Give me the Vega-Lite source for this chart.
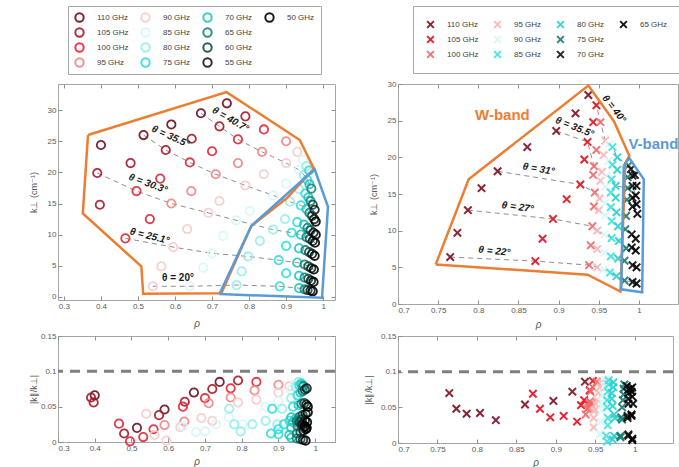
{
"$schema": "https://vega.github.io/schema/vega-lite/v6.json",
"padding": {"left": 28, "top": 5, "right": 0, "bottom": 0},
"background": "white",
"config": {
  "font": "Liberation Sans",
  "view": {"stroke": "#a6a6a6", "strokeWidth": 1},
  "axis": {"grid": false, "domain": false, "ticks": true, "tickSize": -4, "tickColor": "#909090", "labelPadding": 6, "labelColor": "#595959", "labelFontSize": 8, "labelOverlap": false, "titleColor": "#595959", "titleFontSize": 9, "titleFontWeight": "normal"},
  "axisX": {"minExtent": 10, "maxExtent": 10, "titlePadding": 8, "titleFontStyle": "italic", "titleFontSize": 10},
  "axisY": {"minExtent": 14, "maxExtent": 14, "titlePadding": 6},
  "legend": {"orient": "none", "title": null, "columns": 4, "strokeColor": "#a6a6a6", "fillColor": "white", "labelFontSize": 8, "labelColor": "#404040", "labelOffset": 12, "rowPadding": 4, "clipHeight": 11, "symbolStrokeWidth": 2}
},
"datasets": {
  "L": [
    {"ray":"A","f":110,"rho":0.74,"k":31.1,"r":0.085},{"ray":"A","f":105,"rho":0.79,"k":29.0,"r":0.087},{"ray":"A","f":100,"rho":0.84,"k":26.9,"r":0.085},{"ray":"A","f":95,"rho":0.90,"k":25.0,"r":0.081},{"ray":"A","f":90,"rho":0.93,"k":23.3,"r":0.079},{"ray":"A","f":85,"rho":0.945,"k":22.0,"r":0.082},{"ray":"A","f":80,"rho":0.955,"k":21.0,"r":0.085},{"ray":"A","f":75,"rho":0.962,"k":20.3,"r":0.083},
    {"ray":"B","f":110,"rho":0.67,"k":29.5,"r":0.070},{"ray":"B","f":105,"rho":0.72,"k":27.4,"r":0.075},{"ray":"B","f":100,"rho":0.77,"k":25.3,"r":0.076},{"ray":"B","f":95,"rho":0.835,"k":23.3,"r":0.073},{"ray":"B","f":90,"rho":0.90,"k":21.5,"r":0.070},{"ray":"B","f":85,"rho":0.935,"k":20.4,"r":0.074},{"ray":"B","f":80,"rho":0.948,"k":19.6,"r":0.078},{"ray":"B","f":75,"rho":0.957,"k":18.8,"r":0.080},{"ray":"B","f":70,"rho":0.963,"k":18.1,"r":0.081},{"ray":"B","f":65,"rho":0.968,"k":17.4,"r":0.079},
    {"ray":"C","f":110,"rho":0.59,"k":27.7,"r":0.046},{"ray":"C","f":105,"rho":0.645,"k":25.4,"r":0.057},{"ray":"C","f":100,"rho":0.70,"k":23.4,"r":0.062},{"ray":"C","f":95,"rho":0.77,"k":21.5,"r":0.063},{"ray":"C","f":90,"rho":0.84,"k":19.7,"r":0.060},{"ray":"C","f":85,"rho":0.90,"k":18.2,"r":0.058},{"ray":"C","f":80,"rho":0.935,"k":17.3,"r":0.062},{"ray":"C","f":75,"rho":0.952,"k":16.6,"r":0.066},{"ray":"C","f":70,"rho":0.96,"k":16.0,"r":0.070},{"ray":"C","f":65,"rho":0.966,"k":15.4,"r":0.072},{"ray":"C","f":60,"rho":0.972,"k":14.8,"r":0.074},{"ray":"C","f":55,"rho":0.977,"k":14.0,"r":0.076},
    {"ray":"D","f":110,"rho":0.515,"k":26.0,"r":0.020},{"ray":"D","f":105,"rho":0.575,"k":23.6,"r":0.038},{"ray":"D","f":100,"rho":0.64,"k":21.6,"r":0.050},{"ray":"D","f":95,"rho":0.71,"k":19.7,"r":0.055},{"ray":"D","f":90,"rho":0.79,"k":17.9,"r":0.056},{"ray":"D","f":85,"rho":0.865,"k":16.3,"r":0.050},{"ray":"D","f":80,"rho":0.91,"k":15.3,"r":0.047},{"ray":"D","f":75,"rho":0.94,"k":14.7,"r":0.050},{"ray":"D","f":70,"rho":0.955,"k":14.1,"r":0.052},{"ray":"D","f":65,"rho":0.963,"k":13.5,"r":0.054},{"ray":"D","f":60,"rho":0.97,"k":13.0,"r":0.055},{"ray":"D","f":55,"rho":0.976,"k":12.5,"r":0.053},{"ray":"D","f":50,"rho":0.98,"k":12.1,"r":0.050},
    {"ray":"E","f":110,"rho":0.40,"k":24.4,"r":0.066},{"ray":"E","f":105,"rho":0.48,"k":21.5,"r":0.012},{"ray":"E","f":100,"rho":0.56,"k":19.0,"r":0.018},{"ray":"E","f":95,"rho":0.644,"k":17.0,"r":0.029},{"ray":"E","f":90,"rho":0.72,"k":15.4,"r":0.030},{"ray":"E","f":85,"rho":0.802,"k":13.8,"r":0.025},{"ray":"E","f":80,"rho":0.897,"k":12.5,"r":0.025},{"ray":"E","f":75,"rho":0.93,"k":12.0,"r":0.030},{"ray":"E","f":70,"rho":0.948,"k":11.6,"r":0.033},{"ray":"E","f":65,"rho":0.958,"k":11.1,"r":0.036},{"ray":"E","f":60,"rho":0.966,"k":10.7,"r":0.038},{"ray":"E","f":55,"rho":0.974,"k":10.3,"r":0.040},{"ray":"E","f":50,"rho":0.98,"k":10.0,"r":0.042},
    {"ray":"F","f":105,"rho":0.39,"k":19.9,"r":0.063},{"ray":"F","f":100,"rho":0.496,"k":17.0,"r":0.001},{"ray":"F","f":95,"rho":0.59,"k":15.0,"r":0.024},{"ray":"F","f":90,"rho":0.69,"k":13.5,"r":0.034},{"ray":"F","f":85,"rho":0.765,"k":12.3,"r":0.035},{"ray":"F","f":80,"rho":0.865,"k":10.8,"r":0.030},{"ray":"F","f":75,"rho":0.915,"k":10.3,"r":0.025},{"ray":"F","f":70,"rho":0.94,"k":10.0,"r":0.028},{"ray":"F","f":65,"rho":0.955,"k":9.6,"r":0.030},{"ray":"F","f":60,"rho":0.964,"k":9.3,"r":0.032},{"ray":"F","f":55,"rho":0.972,"k":9.0,"r":0.030},{"ray":"F","f":50,"rho":0.978,"k":8.7,"r":0.028},
    {"ray":"G","f":105,"rho":0.397,"k":14.8,"r":0.056},{"ray":"G","f":100,"rho":0.532,"k":12.5,"r":0.007},{"ray":"G","f":90,"rho":0.633,"k":10.9,"r":0.021},{"ray":"G","f":85,"rho":0.73,"k":9.8,"r":0.025},{"ray":"G","f":80,"rho":0.829,"k":9.0,"r":0.025},{"ray":"G","f":75,"rho":0.90,"k":8.2,"r":0.018},{"ray":"G","f":70,"rho":0.935,"k":7.8,"r":0.020},{"ray":"G","f":65,"rho":0.952,"k":7.5,"r":0.022},{"ray":"G","f":60,"rho":0.962,"k":7.2,"r":0.024},{"ray":"G","f":55,"rho":0.97,"k":6.9,"r":0.022},{"ray":"G","f":50,"rho":0.977,"k":6.6,"r":0.020},
    {"ray":"H","f":100,"rho":0.466,"k":9.4,"r":0.026},{"ray":"H","f":90,"rho":0.595,"k":8.0,"r":0.002},{"ray":"H","f":85,"rho":0.70,"k":7.0,"r":0.015},{"ray":"H","f":80,"rho":0.797,"k":6.5,"r":0.015},{"ray":"H","f":75,"rho":0.88,"k":5.9,"r":0.012},{"ray":"H","f":70,"rho":0.93,"k":5.5,"r":0.010},{"ray":"H","f":65,"rho":0.95,"k":5.2,"r":0.012},{"ray":"H","f":60,"rho":0.96,"k":4.9,"r":0.014},{"ray":"H","f":55,"rho":0.968,"k":4.6,"r":0.016},{"ray":"H","f":50,"rho":0.975,"k":4.4,"r":0.018},
    {"ray":"I","f":90,"rho":0.563,"k":4.9,"r":0.010},{"ray":"I","f":85,"rho":0.676,"k":4.7,"r":0.014},{"ray":"I","f":80,"rho":0.78,"k":4.1,"r":0.025},{"ray":"I","f":75,"rho":0.90,"k":3.8,"r":0.011},{"ray":"I","f":70,"rho":0.935,"k":3.4,"r":0.006},{"ray":"I","f":65,"rho":0.95,"k":3.1,"r":0.005},{"ray":"I","f":60,"rho":0.96,"k":2.9,"r":0.004},{"ray":"I","f":55,"rho":0.967,"k":2.6,"r":0.003},{"ray":"I","f":50,"rho":0.974,"k":2.4,"r":0.002},
    {"ray":"J","f":90,"rho":0.54,"k":1.7,"r":0.040},{"ray":"J","f":85,"rho":0.64,"k":1.7,"r":0.022},{"ray":"J","f":80,"rho":0.766,"k":1.9,"r":0.047},{"ray":"J","f":75,"rho":0.883,"k":1.7,"r":0.047},{"ray":"J","f":70,"rho":0.935,"k":1.4,"r":0.035},{"ray":"J","f":65,"rho":0.95,"k":1.2,"r":0.030},{"ray":"J","f":60,"rho":0.958,"k":1.1,"r":0.028},{"ray":"J","f":55,"rho":0.966,"k":1.0,"r":0.025},{"ray":"J","f":50,"rho":0.972,"k":0.9,"r":0.022}
  ],
  "R": [
    {"ray":"R1","f":110,"rho":0.765,"k":6.4,"r":0.070},{"ray":"R1","f":105,"rho":0.871,"k":5.85,"r":0.069},{"ray":"R1","f":100,"rho":0.938,"k":5.3,"r":0.040},{"ray":"R1","f":95,"rho":0.948,"k":5.0,"r":0.022},{"ray":"R1","f":90,"rho":0.956,"k":4.7,"r":0.013},{"ray":"R1","f":85,"rho":0.964,"k":4.3,"r":0.010},{"ray":"R1","f":80,"rho":0.972,"k":3.8,"r":0.005},{"ray":"R1","f":75,"rho":0.982,"k":3.2,"r":0.008},{"ray":"R1","f":70,"rho":0.992,"k":3.0,"r":0.012},{"ray":"R1","f":65,"rho":0.997,"k":2.8,"r":0.004},
    {"ray":"R2","f":110,"rho":0.774,"k":9.7,"r":0.048},{"ray":"R2","f":105,"rho":0.880,"k":8.9,"r":0.048},{"ray":"R2","f":100,"rho":0.940,"k":8.0,"r":0.048},{"ray":"R2","f":95,"rho":0.948,"k":7.5,"r":0.035},{"ray":"R2","f":90,"rho":0.957,"k":7.0,"r":0.012},{"ray":"R2","f":85,"rho":0.965,"k":6.5,"r":0.002},{"ray":"R2","f":80,"rho":0.974,"k":6.2,"r":0.010},{"ray":"R2","f":75,"rho":0.982,"k":5.9,"r":0.010},{"ray":"R2","f":70,"rho":0.992,"k":5.3,"r":0.010},{"ray":"R2","f":65,"rho":0.997,"k":5.0,"r":0.006},
    {"ray":"R3","f":110,"rho":0.787,"k":12.8,"r":0.041},{"ray":"R3","f":105,"rho":0.893,"k":11.6,"r":0.036},{"ray":"R3","f":100,"rho":0.942,"k":10.6,"r":0.050},{"ray":"R3","f":95,"rho":0.948,"k":10.0,"r":0.045},{"ray":"R3","f":90,"rho":0.957,"k":9.5,"r":0.030},{"ray":"R3","f":85,"rho":0.966,"k":9.0,"r":0.025},{"ray":"R3","f":80,"rho":0.975,"k":8.6,"r":0.035},{"ray":"R3","f":75,"rho":0.984,"k":7.6,"r":0.033},{"ray":"R3","f":70,"rho":0.991,"k":7.7,"r":0.035},{"ray":"R3","f":65,"rho":0.996,"k":7.3,"r":0.038},
    {"ray":"R4","f":110,"rho":0.804,"k":15.8,"r":0.042},{"ray":"R4","f":105,"rho":0.910,"k":14.3,"r":0.038},{"ray":"R4","f":100,"rho":0.944,"k":13.3,"r":0.055},{"ray":"R4","f":95,"rho":0.950,"k":12.8,"r":0.047},{"ray":"R4","f":90,"rho":0.958,"k":12.1,"r":0.045},{"ray":"R4","f":85,"rho":0.966,"k":11.3,"r":0.035},{"ray":"R4","f":80,"rho":0.974,"k":10.6,"r":0.040},{"ray":"R4","f":75,"rho":0.983,"k":10.2,"r":0.036},{"ray":"R4","f":70,"rho":0.991,"k":9.5,"r":0.038},{"ray":"R4","f":65,"rho":0.996,"k":8.9,"r":0.040},
    {"ray":"R5","f":110,"rho":0.824,"k":18.1,"r":0.032},{"ray":"R5","f":105,"rho":0.927,"k":16.3,"r":0.030},{"ray":"R5","f":100,"rho":0.945,"k":15.2,"r":0.056},{"ray":"R5","f":95,"rho":0.951,"k":14.4,"r":0.055},{"ray":"R5","f":90,"rho":0.958,"k":13.8,"r":0.052},{"ray":"R5","f":85,"rho":0.965,"k":13.2,"r":0.050},{"ray":"R5","f":80,"rho":0.972,"k":12.5,"r":0.052},{"ray":"R5","f":75,"rho":0.984,"k":12.0,"r":0.050},{"ray":"R5","f":70,"rho":0.992,"k":13.3,"r":0.055},{"ray":"R5","f":65,"rho":0.998,"k":12.3,"r":0.055},
    {"ray":"R6","f":110,"rho":0.861,"k":21.4,"r":0.054},{"ray":"R6","f":105,"rho":0.932,"k":19.7,"r":0.053},{"ray":"R6","f":100,"rho":0.943,"k":17.6,"r":0.058},{"ray":"R6","f":95,"rho":0.952,"k":16.8,"r":0.060},{"ray":"R6","f":90,"rho":0.958,"k":16.0,"r":0.058},{"ray":"R6","f":85,"rho":0.965,"k":15.2,"r":0.060},{"ray":"R6","f":80,"rho":0.971,"k":14.5,"r":0.062},{"ray":"R6","f":75,"rho":0.985,"k":14.2,"r":0.060},{"ray":"R6","f":70,"rho":0.992,"k":14.5,"r":0.062},{"ray":"R6","f":65,"rho":0.997,"k":13.6,"r":0.065},
    {"ray":"R7","f":110,"rho":0.897,"k":23.6,"r":0.059},{"ray":"R7","f":105,"rho":0.936,"k":22.1,"r":0.060},{"ray":"R7","f":100,"rho":0.944,"k":18.8,"r":0.072},{"ray":"R7","f":95,"rho":0.954,"k":18.0,"r":0.070},{"ray":"R7","f":90,"rho":0.960,"k":17.5,"r":0.068},{"ray":"R7","f":85,"rho":0.966,"k":17.0,"r":0.072},{"ray":"R7","f":80,"rho":0.971,"k":16.1,"r":0.070},{"ray":"R7","f":75,"rho":0.986,"k":15.8,"r":0.068},{"ray":"R7","f":70,"rho":0.992,"k":16.1,"r":0.070},{"ray":"R7","f":65,"rho":0.996,"k":14.8,"r":0.072},
    {"ray":"R8","f":110,"rho":0.921,"k":26.0,"r":0.072},{"ray":"R8","f":105,"rho":0.943,"k":24.8,"r":0.074},{"ray":"R8","f":100,"rho":0.947,"k":21.0,"r":0.078},{"ray":"R8","f":95,"rho":0.956,"k":20.3,"r":0.078},{"ray":"R8","f":90,"rho":0.962,"k":19.5,"r":0.080},{"ray":"R8","f":85,"rho":0.967,"k":19.0,"r":0.082},{"ray":"R8","f":80,"rho":0.973,"k":18.3,"r":0.078},{"ray":"R8","f":75,"rho":0.986,"k":17.3,"r":0.076},{"ray":"R8","f":70,"rho":0.992,"k":17.5,"r":0.075},{"ray":"R8","f":65,"rho":0.997,"k":16.1,"r":0.078},
    {"ray":"R9","f":110,"rho":0.937,"k":28.5,"r":0.086},{"ray":"R9","f":105,"rho":0.947,"k":27.1,"r":0.087},{"ray":"R9","f":100,"rho":0.952,"k":24.8,"r":0.086},{"ray":"R9","f":95,"rho":0.958,"k":22.3,"r":0.085},{"ray":"R9","f":90,"rho":0.963,"k":21.8,"r":0.088},{"ray":"R9","f":85,"rho":0.967,"k":21.4,"r":0.088},{"ray":"R9","f":80,"rho":0.973,"k":20.0,"r":0.085},{"ray":"R9","f":75,"rho":0.987,"k":18.9,"r":0.082},{"ray":"R9","f":70,"rho":0.990,"k":18.4,"r":0.080},{"ray":"R9","f":65,"rho":0.995,"k":17.6,"r":0.076}
  ],
  "pLo": [{"i":1,"rho":0.365,"k":26.0},{"i":2,"rho":0.739,"k":32.9},{"i":3,"rho":0.937,"k":25.2},{"i":4,"rho":0.975,"k":20.6},{"i":5,"rho":0.903,"k":15.9},{"i":6,"rho":0.806,"k":11.4},{"i":7,"rho":0.725,"k":0.6},{"i":8,"rho":0.514,"k":0.5},{"i":9,"rho":0.509,"k":4.9},{"i":10,"rho":0.351,"k":13.4},{"i":11,"rho":0.365,"k":26.0}],
  "pLb": [{"i":1,"rho":0.72,"k":0.45},{"i":2,"rho":0.806,"k":11.4},{"i":3,"rho":0.977,"k":20.5},{"i":4,"rho":1.013,"k":14.5},{"i":5,"rho":0.997,"k":-0.15},{"i":6,"rho":0.72,"k":0.45}],
  "pRo": [{"i":1,"rho":0.747,"k":5.4},{"i":2,"rho":0.788,"k":17.0},{"i":3,"rho":0.937,"k":29.8},{"i":4,"rho":0.969,"k":24.9},{"i":5,"rho":0.988,"k":20.2},{"i":6,"rho":0.983,"k":19.2},{"i":7,"rho":0.977,"k":1.7},{"i":8,"rho":0.936,"k":4.0},{"i":9,"rho":0.747,"k":5.4}],
  "pRb": [{"i":1,"rho":0.981,"k":18.9},{"i":2,"rho":0.988,"k":19.9},{"i":3,"rho":1.006,"k":17.0},{"i":4,"rho":1.004,"k":1.6},{"i":5,"rho":0.978,"k":2.0},{"i":6,"rho":0.981,"k":18.9}]
},
"hconcat": [
  {"vconcat": [
    {"width": 277, "height": 216,
     "resolve": {"axis": {"x": "independent", "y": "independent"}},
     "layer": [
      {"layer": [
      {"data": {"name": "L"}, "transform": [{"filter": {"field": "ray", "oneOf": ["B","D","F","H","J"]}}],
       "mark": {"type": "line", "stroke": "#808080", "strokeWidth": 0.9, "strokeDash": [5,4]},
       "encoding": {"x": {"field": "rho", "type": "quantitative", "scale": {"domain": [0.284, 1.032], "nice": false, "zero": false}, "axis": {"title": "ρ", "values": [0.3,0.4,0.5,0.6,0.7,0.8,0.9,1], "tickCount": 40, "format": "~g"}},
                    "y": {"field": "k", "type": "quantitative", "scale": {"domain": [-0.5, 34.2], "nice": false, "zero": false}, "axis": {"title": "k⊥ (cm⁻¹)", "values": [0,5,10,15,20,25,30], "tickCount": 40}},
                    "detail": {"field": "ray"}, "order": {"field": "rho"}}},
      {"data": {"name": "L"},
       "mark": {"type": "point", "shape": "circle", "filled": false, "strokeWidth": 1.8, "size": 70, "opacity": 0.9},
       "encoding": {"x": {"field": "rho", "type": "quantitative"}, "y": {"field": "k", "type": "quantitative"},
                    "order": {"field": "f", "sort": "descending"},
                    "color": {"field": "f", "type": "ordinal", "scale": {"domain": [110,105,100,95,90,85,80,75,70,65,60,55,50,3,2,1], "range": ["#6e0f1e","#a8192a","#e02838","#f08888","#f8cccc","#d8f8f8","#98eeee","#30dede","#22c8c0","#18857c","#0f4f48","#1a1a1a","#000000","rgba(0,0,0,0)","rgba(0,0,0,0)","rgba(0,0,0,0)"]},
                              "legend": {"labelExpr": "datum.value < 10 ? '' : datum.label + ' GHz'", "legendX": 10, "legendY": -78, "padding": 6, "columnPadding": 11, "symbolSize": 70, "symbolType": "circle"}}}},
      {"data": {"name": "pLo"}, "mark": {"type": "line", "stroke": "#ed7d31", "strokeWidth": 2.5}, "encoding": {"x": {"field": "rho", "type": "quantitative"}, "y": {"field": "k", "type": "quantitative"}, "order": {"field": "i"}}},
      {"data": {"name": "pLb"}, "mark": {"type": "line", "stroke": "#5b9bd5", "strokeWidth": 2.5}, "encoding": {"x": {"field": "rho", "type": "quantitative"}, "y": {"field": "k", "type": "quantitative"}, "order": {"field": "i"}}},
      {"data": {"values": [{"rho":0.750,"k":28.5,"t":"θ = 40.7°"}]}, "mark": {"type": "text", "angle": 30, "fontSize": 10, "fontWeight": "bold", "fontStyle": "italic", "color": "#1a1a1a"}, "encoding": {"x": {"field": "rho", "type": "quantitative"}, "y": {"field": "k", "type": "quantitative"}, "text": {"field": "t"}}},
      {"data": {"values": [{"rho":0.588,"k":25.75,"t":"θ = 35.5°"}]}, "mark": {"type": "text", "angle": 24, "fontSize": 10, "fontWeight": "bold", "fontStyle": "italic", "color": "#1a1a1a"}, "encoding": {"x": {"field": "rho", "type": "quantitative"}, "y": {"field": "k", "type": "quantitative"}, "text": {"field": "t"}}},
      {"data": {"values": [{"rho":0.527,"k":18.2,"t":"θ = 30.3°"}]}, "mark": {"type": "text", "angle": 20, "fontSize": 10, "fontWeight": "bold", "fontStyle": "italic", "color": "#1a1a1a"}, "encoding": {"x": {"field": "rho", "type": "quantitative"}, "y": {"field": "k", "type": "quantitative"}, "text": {"field": "t"}}},
      {"data": {"values": [{"rho":0.531,"k":9.76,"t":"θ = 25.1°"}]}, "mark": {"type": "text", "angle": 14, "fontSize": 10, "fontWeight": "bold", "fontStyle": "italic", "color": "#1a1a1a"}, "encoding": {"x": {"field": "rho", "type": "quantitative"}, "y": {"field": "k", "type": "quantitative"}, "text": {"field": "t"}}},
      {"data": {"values": [{"rho":0.608,"k":3.06,"t":"θ = 20°"}]}, "mark": {"type": "text", "angle": 0, "fontSize": 10, "fontWeight": "bold", "color": "#1a1a1a"}, "encoding": {"x": {"field": "rho", "type": "quantitative"}, "y": {"field": "k", "type": "quantitative"}, "text": {"field": "t"}}}
      ]},
      {"data": {"name": "pLo"}, "mark": {"type": "point", "opacity": 0},
       "encoding": {"x": {"field": "rho", "type": "quantitative", "axis": {"orient": "top", "labels": false, "title": null, "values": [0.3,0.4,0.5,0.6,0.7,0.8,0.9,1], "tickCount": 40, "minExtent": 0, "maxExtent": 0}},
                    "y": {"field": "k", "type": "quantitative", "axis": {"orient": "right", "labels": false, "title": null, "values": [0,5,10,15,20,25,30], "tickCount": 40, "minExtent": 0, "maxExtent": 0}}}}
     ]},
    {"width": 277, "height": 106,
     "resolve": {"axis": {"x": "independent", "y": "independent"}},
     "layer": [
      {"layer": [
      {"data": {"values": [{"r": 0.1}]}, "mark": {"type": "rule", "stroke": "#7f7f7f", "strokeWidth": 3, "strokeDash": [10,7]},
       "encoding": {"y": {"field": "r", "type": "quantitative", "scale": {"domain": [0, 0.15], "nice": false}, "axis": {"title": "|k∥/k⊥|", "values": [0,0.05,0.1,0.15], "tickCount": 40, "format": "~g"}}}},
      {"data": {"name": "L"},
       "mark": {"type": "point", "shape": "circle", "filled": false, "strokeWidth": 1.8, "size": 70, "opacity": 0.9},
       "encoding": {"x": {"field": "rho", "type": "quantitative", "scale": {"domain": [0.3, 1.054], "nice": false, "zero": false}, "axis": {"title": "ρ", "values": [0.3,0.4,0.5,0.6,0.7,0.8,0.9,1], "tickCount": 40, "format": "~g", "titlePadding": 4}},
                    "y": {"field": "r", "type": "quantitative"},
                    "order": {"field": "f", "sort": "descending"},
                    "color": {"field": "f", "type": "ordinal", "scale": {"domain": [110,105,100,95,90,85,80,75,70,65,60,55,50], "range": ["#6e0f1e","#a8192a","#e02838","#f08888","#f8cccc","#d8f8f8","#98eeee","#30dede","#22c8c0","#18857c","#0f4f48","#1a1a1a","#000000"]}, "legend": null}}}
      ]},
      {"data": {"name": "L"}, "mark": {"type": "point", "opacity": 0},
       "encoding": {"x": {"field": "rho", "type": "quantitative", "axis": {"orient": "top", "labels": false, "title": null, "values": [0.3,0.4,0.5,0.6,0.7,0.8,0.9,1], "tickCount": 40, "minExtent": 0, "maxExtent": 0}},
                    "y": {"field": "r", "type": "quantitative", "axis": {"orient": "right", "labels": false, "title": null, "values": [0,0.05,0.1,0.15], "tickCount": 40, "minExtent": 0, "maxExtent": 0}}}}
     ]}
  ], "spacing": 2},
  {"vconcat": [
    {"width": 280, "height": 220,
     "resolve": {"axis": {"x": "independent", "y": "independent"}},
     "layer": [
      {"layer": [
      {"data": {"name": "R"}, "transform": [{"filter": {"field": "ray", "oneOf": ["R1","R3","R5","R7","R9"]}}],
       "mark": {"type": "line", "stroke": "#808080", "strokeWidth": 0.9, "strokeDash": [5,4]},
       "encoding": {"x": {"field": "rho", "type": "quantitative", "scale": {"domain": [0.7, 1.0486], "nice": false, "zero": false}, "axis": {"title": "ρ", "values": [0.7,0.75,0.8,0.85,0.9,0.95,1], "tickCount": 40, "format": "~g", "titlePadding": 5}},
                    "y": {"field": "k", "type": "quantitative", "scale": {"domain": [0, 30], "nice": false}, "axis": {"title": "k⊥ (cm⁻¹)", "values": [0,5,10,15,20,25,30], "tickCount": 40}},
                    "detail": {"field": "ray"}, "order": {"field": "rho"}}},
      {"data": {"name": "R"},
       "mark": {"type": "point", "shape": "M-1,-1L1,1M-1,1L1,-1", "filled": false, "strokeWidth": 2, "size": 55, "opacity": 0.9},
       "encoding": {"x": {"field": "rho", "type": "quantitative"}, "y": {"field": "k", "type": "quantitative"},
                    "order": {"field": "f", "sort": "descending"},
                    "color": {"field": "f", "type": "ordinal", "scale": {"domain": [110,105,100,95,90,85,80,75,70,65,2,1], "range": ["#7a1020","#e01020","#f06a6a","#f8b8b8","#d8f8f8","#40e0e0","#2ccfcf","#187a70","#101010","#000000","rgba(0,0,0,0)","rgba(0,0,0,0)"]},
                              "legend": {"labelExpr": "datum.value < 10 ? '' : datum.label + ' GHz'", "legendX": 15, "legendY": -78, "padding": 13, "columnPadding": 14, "symbolSize": 45, "symbolType": "M-1,-1L1,1M-1,1L1,-1"}}}},
      {"data": {"name": "pRo"}, "mark": {"type": "line", "stroke": "#ed7d31", "strokeWidth": 2.5}, "encoding": {"x": {"field": "rho", "type": "quantitative"}, "y": {"field": "k", "type": "quantitative"}, "order": {"field": "i"}}},
      {"data": {"name": "pRb"}, "mark": {"type": "line", "stroke": "#5b9bd5", "strokeWidth": 2.5}, "encoding": {"x": {"field": "rho", "type": "quantitative"}, "y": {"field": "k", "type": "quantitative"}, "order": {"field": "i"}}},
      {"data": {"values": [{"rho":0.969,"k":26.6,"t":"θ = 40°"}]}, "mark": {"type": "text", "angle": 52, "fontSize": 10, "fontWeight": "bold", "fontStyle": "italic", "color": "#1a1a1a"}, "encoding": {"x": {"field": "rho", "type": "quantitative"}, "y": {"field": "k", "type": "quantitative"}, "text": {"field": "t"}}},
      {"data": {"values": [{"rho":0.920,"k":24.1,"t":"θ = 35.5°"}]}, "mark": {"type": "text", "angle": 22, "fontSize": 10, "fontWeight": "bold", "fontStyle": "italic", "color": "#1a1a1a"}, "encoding": {"x": {"field": "rho", "type": "quantitative"}, "y": {"field": "k", "type": "quantitative"}, "text": {"field": "t"}}},
      {"data": {"values": [{"rho":0.875,"k":18.4,"t":"θ = 31°"}]}, "mark": {"type": "text", "angle": 10, "fontSize": 10, "fontWeight": "bold", "fontStyle": "italic", "color": "#1a1a1a"}, "encoding": {"x": {"field": "rho", "type": "quantitative"}, "y": {"field": "k", "type": "quantitative"}, "text": {"field": "t"}}},
      {"data": {"values": [{"rho":0.849,"k":13.2,"t":"θ = 27°"}]}, "mark": {"type": "text", "angle": 8, "fontSize": 10, "fontWeight": "bold", "fontStyle": "italic", "color": "#1a1a1a"}, "encoding": {"x": {"field": "rho", "type": "quantitative"}, "y": {"field": "k", "type": "quantitative"}, "text": {"field": "t"}}},
      {"data": {"values": [{"rho":0.820,"k":7.2,"t":"θ = 22°"}]}, "mark": {"type": "text", "angle": 6, "fontSize": 10, "fontWeight": "bold", "fontStyle": "italic", "color": "#1a1a1a"}, "encoding": {"x": {"field": "rho", "type": "quantitative"}, "y": {"field": "k", "type": "quantitative"}, "text": {"field": "t"}}},
      {"data": {"values": [{"rho":0.83,"k":25.8,"t":"W-band"}]}, "mark": {"type": "text", "fontSize": 15, "fontWeight": "bold", "color": "#ed7d31"}, "encoding": {"x": {"field": "rho", "type": "quantitative"}, "y": {"field": "k", "type": "quantitative"}, "text": {"field": "t"}}},
      {"data": {"values": [{"rho":1.018,"k":21.8,"t":"V-band"}]}, "mark": {"type": "text", "fontSize": 15, "fontWeight": "bold", "color": "#5b9bd5"}, "encoding": {"x": {"field": "rho", "type": "quantitative"}, "y": {"field": "k", "type": "quantitative"}, "text": {"field": "t"}}}
      ]},
      {"data": {"name": "pRo"}, "mark": {"type": "point", "opacity": 0},
       "encoding": {"x": {"field": "rho", "type": "quantitative", "axis": {"orient": "top", "labels": false, "title": null, "values": [0.7,0.75,0.8,0.85,0.9,0.95,1], "tickCount": 40, "minExtent": 0, "maxExtent": 0}},
                    "y": {"field": "k", "type": "quantitative", "axis": null}}}
     ]},
    {"width": 275, "height": 107,
     "resolve": {"axis": {"x": "independent", "y": "independent"}},
     "layer": [
      {"layer": [
      {"data": {"values": [{"r": 0.1}]}, "mark": {"type": "rule", "stroke": "#7f7f7f", "strokeWidth": 3, "strokeDash": [10,7]},
       "encoding": {"y": {"field": "r", "type": "quantitative", "scale": {"domain": [0, 0.15], "nice": false}, "axis": {"title": "|k∥/k⊥|", "values": [0,0.05,0.1,0.15], "tickCount": 40, "format": "~g", "minExtent": 19, "maxExtent": 19}}}},
      {"data": {"name": "R"},
       "mark": {"type": "point", "shape": "M-1,-1L1,1M-1,1L1,-1", "filled": false, "strokeWidth": 2, "size": 55, "opacity": 0.9},
       "encoding": {"x": {"field": "rho", "type": "quantitative", "scale": {"domain": [0.7, 1.0486], "nice": false, "zero": false}, "axis": {"title": "ρ", "values": [0.7,0.75,0.8,0.85,0.9,0.95,1], "tickCount": 40, "format": "~g", "titlePadding": 4}},
                    "y": {"field": "r", "type": "quantitative"},
                    "order": {"field": "f", "sort": "descending"},
                    "color": {"field": "f", "type": "ordinal", "scale": {"domain": [110,105,100,95,90,85,80,75,70,65], "range": ["#7a1020","#e01020","#f06a6a","#f8b8b8","#d8f8f8","#40e0e0","#2ccfcf","#187a70","#101010","#000000"]}, "legend": null}}}
      ]},
      {"data": {"name": "R"}, "mark": {"type": "point", "opacity": 0},
       "encoding": {"x": {"field": "rho", "type": "quantitative", "axis": {"orient": "top", "labels": false, "title": null, "values": [0.7,0.75,0.8,0.85,0.9,0.95,1], "tickCount": 40, "minExtent": 0, "maxExtent": 0}},
                    "y": {"field": "r", "type": "quantitative", "axis": null}}}
     ]}
  ], "spacing": 1}
],
"spacing": 26,
"resolve": {"scale": {"color": "independent", "x": "independent", "y": "independent"}, "legend": {"color": "independent"}}
}
